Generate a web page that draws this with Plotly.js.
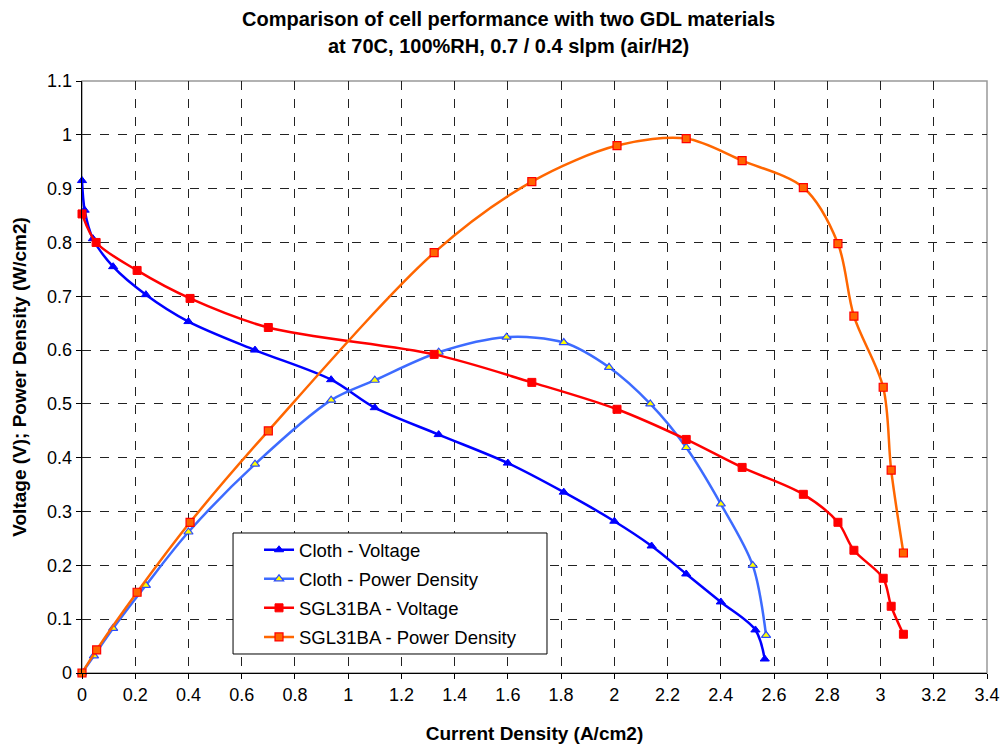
<!DOCTYPE html>
<html>
<head>
<meta charset="utf-8">
<script src="https://cdn.plot.ly/plotly-3.0.1.min.js"></script>
<style>
  html, body { margin: 0; padding: 0; background: #fff; }
  #chart { width: 1003px; height: 748px; }
</style>
</head>
<body>
<div id="chart"></div>
<script>
// Polarization and power curves for two gas diffusion layer materials
const clothCurrent = [0, 0.01, 0.041, 0.117, 0.24, 0.40, 0.65, 0.936, 1.10, 1.34, 1.60, 1.81, 2.0, 2.14, 2.27, 2.40, 2.53, 2.565];
const clothVoltage = [0.915, 0.86, 0.807, 0.755, 0.703, 0.653, 0.600, 0.545, 0.493, 0.443, 0.390, 0.336, 0.282, 0.236, 0.184, 0.132, 0.080, 0.026];

const clothPdCurrent = [0, 0.045, 0.117, 0.24, 0.40, 0.65, 0.936, 1.10, 1.34, 1.595, 1.81, 1.98, 2.135, 2.27, 2.40, 2.52, 2.57];
const clothPower = [0, 0.032, 0.083, 0.163, 0.262, 0.388, 0.507, 0.544, 0.596, 0.624, 0.614, 0.568, 0.500, 0.419, 0.314, 0.200, 0.070];

const sglCurrent = [0, 0.053, 0.207, 0.406, 0.70, 1.323, 1.69, 2.01, 2.27, 2.48, 2.71, 2.84, 2.90, 3.01, 3.04, 3.086];
const sglVoltage = [0.853, 0.800, 0.748, 0.696, 0.642, 0.592, 0.540, 0.490, 0.434, 0.382, 0.332, 0.280, 0.228, 0.176, 0.124, 0.072];

const sglPdCurrent = [0, 0.055, 0.207, 0.406, 0.70, 1.323, 1.69, 2.01, 2.27, 2.48, 2.71, 2.84, 2.90, 3.01, 3.04, 3.086];
const sglPower = [0, 0.043, 0.150, 0.280, 0.450, 0.781, 0.913, 0.980, 0.993, 0.952, 0.902, 0.798, 0.663, 0.531, 0.377, 0.223];

const seriesNames = ['Cloth - Voltage', 'Cloth - Power Density', 'SGL31BA - Voltage', 'SGL31BA - Power Density'];

const xTickVals = [0, 0.2, 0.4, 0.6, 0.8, 1, 1.2, 1.4, 1.6, 1.8, 2, 2.2, 2.4, 2.6, 2.8, 3, 3.2, 3.4];
const xTickText = ['0', '0.2', '0.4', '0.6', '0.8', '1', '1.2', '1.4', '1.6', '1.8', '2', '2.2', '2.4', '2.6', '2.8', '3', '3.2', '3.4'];
const yTickVals = [0, 0.1, 0.2, 0.3, 0.4, 0.5, 0.6, 0.7, 0.8, 0.9, 1, 1.1];
const yTickText = ['0', '0.1', '0.2', '0.3', '0.4', '0.5', '0.6', '0.7', '0.8', '0.9', '1', '1.1'];

const FONT = 'Arial, "Liberation Sans", sans-serif';

function curve(x, y, name, group, lineColor, marker) {
  return {
    type: 'scatter', mode: 'lines+markers', x: x, y: y, name: name,
    legendgroup: group,
    line: { color: lineColor, width: 2.5, shape: 'spline', smoothing: 0.9 },
    marker: marker,
    cliponaxis: false
  };
}

const traces = [
  curve(clothCurrent, clothVoltage, seriesNames[0], 'g1', '#0000FF',
    { symbol: 'triangle-up', size: 8, color: '#0000FF', line: { color: '#0000FF', width: 1 } }),
  curve(clothPdCurrent, clothPower, seriesNames[1], 'g2', '#3D6BFF',
    { symbol: 'triangle-up', size: 8, color: '#FFFF00', line: { color: '#2A4BFF', width: 1.2 } }),
  curve(sglCurrent, sglVoltage, seriesNames[2], 'g3', '#FF0000',
    { symbol: 'square', size: 8, color: '#FF0000', line: { color: '#FF0000', width: 1 } }),
  curve(sglPdCurrent, sglPower, seriesNames[3], 'g4', '#FF6600',
    { symbol: 'square', size: 8, color: '#FF6600', line: { color: '#FF0000', width: 1.2 } })
];

const axisCommon = {
  showline: true, linecolor: '#000', linewidth: 1.3,
  ticks: 'outside', ticklen: 5, tickcolor: '#000', tickwidth: 1,
  showgrid: true, gridcolor: '#222', griddash: 'dash', gridwidth: 1,
  zeroline: false, tickmode: 'array',
  tickfont: { family: FONT, size: 18, color: '#000' }
};

const layout = {
  width: 1003, height: 748,
  margin: { l: 82, r: 16, t: 81, b: 75 },
  paper_bgcolor: '#fff', plot_bgcolor: '#fff',
  font: { family: FONT, color: '#000' },
  showlegend: true,
  xaxis: Object.assign({}, axisCommon, {
    range: [0, 3.4], tickvals: xTickVals, ticktext: xTickText,
    title: { text: '<b>Current Density (A/cm2)</b>', font: { family: FONT, size: 19, color: '#000' }, standoff: 22 }
  }),
  yaxis: Object.assign({}, axisCommon, {
    range: [0, 1.1], tickvals: yTickVals, ticktext: yTickText,
    title: { text: '<b>Voltage (V); Power Density (W/cm2)</b>', font: { family: FONT, size: 19, color: '#000' }, standoff: 15 }
  }),
  legend: {
    x: 0.1956, y: 0.2395, xanchor: 'left', yanchor: 'top',
    bgcolor: 'rgba(0,0,0,0)', borderwidth: 0,
    font: { family: FONT, size: 18.5, color: '#000' },
    traceorder: 'grouped', tracegroupgap: 2
  },
  shapes: [
    { type: 'rect', xref: 'paper', yref: 'paper', x0: 0, x1: 1, y0: 0, y1: 1,
      line: { color: '#999', width: 1.5 }, layer: 'below' },
    // legend frame
    { type: 'rect', xref: 'paper', yref: 'paper', x0: 0.1669, x1: 0.5138, y0: 0.0321, y1: 0.2365,
      line: { color: '#000', width: 1 }, fillcolor: '#fff', layer: 'above' }
  ],
  annotations: [
    { text: '<b>Comparison of cell performance with two GDL materials</b>', xref: 'paper', yref: 'paper',
      x: 0.471, y: 1, yshift: 62, xanchor: 'center', yanchor: 'middle', showarrow: false,
      font: { family: FONT, size: 20, color: '#000' } },
    { text: '<b>at 70C, 100%RH, 0.7 / 0.4 slpm (air/H2)</b>', xref: 'paper', yref: 'paper',
      x: 0.471, y: 1, yshift: 35, xanchor: 'center', yanchor: 'middle', showarrow: false,
      font: { family: FONT, size: 20, color: '#000' } }
  ]
};

Plotly.newPlot('chart', traces, layout, { displayModeBar: false, staticPlot: true });
</script>
</body>
</html>
